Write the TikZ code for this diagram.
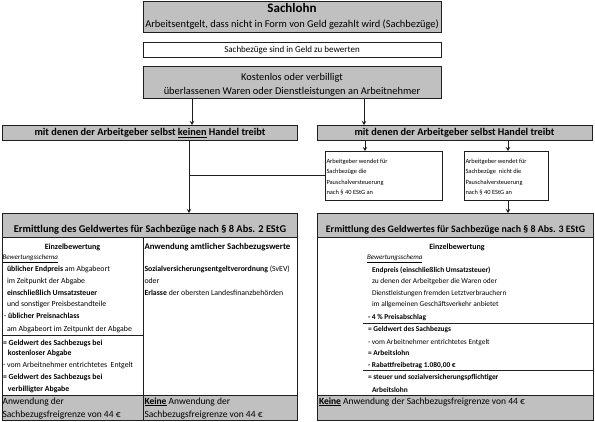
\documentclass[tikz,border=0pt]{standalone}
\usepackage{fontspec}
\setmainfont{Carlito}
\usetikzlibrary{arrows.meta}
\definecolor{boxgray}{HTML}{C0C0C0}
\definecolor{edge}{HTML}{1F1F1F}
\begin{document}
\begin{tikzpicture}[x=1pt,y=-1pt,
  gbox/.style={draw=edge,fill=boxgray,line width=1pt,inner sep=0pt,outer sep=0pt,anchor=north west},
  wbox/.style={draw=edge,fill=white,line width=0.8pt,inner sep=0pt,outer sep=0pt,anchor=north west},
  arr/.style={draw=edge,line width=0.9pt,-{Stealth[length=4pt,width=4.5pt]}},
  conn/.style={draw=edge,line width=0.9pt},
  sep/.style={draw=edge,line width=0.7pt},
  txt/.style={inner sep=0pt,outer sep=0pt,anchor=mid west},
  ctxt/.style={inner sep=0pt,outer sep=0pt,anchor=mid},
  fbig/.style={font=\fontsize{10.4}{12}\selectfont},
  fhead/.style={font=\bfseries\fontsize{10.3}{12}\selectfont},
  ferm/.style={font=\bfseries\fontsize{10.4}{12}\selectfont},
  fermr/.style={font=\bfseries\fontsize{9.9}{12}\selectfont},
  fsub/.style={font=\bfseries\fontsize{8}{9}\selectfont},
  fsubb/.style={font=\bfseries\fontsize{8.8}{10}\selectfont},
  fsm/.style={font=\fontsize{7.8}{9}\selectfont},
  fsr/.style={font=\fontsize{7.4}{9}\selectfont},
  fpa/.style={font=\fontsize{6.4}{7}\selectfont},
  ffoot/.style={font=\fontsize{9.5}{11}\selectfont}]
\useasboundingbox (0,0) rectangle (595,421);

% top boxes
\node[gbox,minimum width=298pt,minimum height=31pt] (sach) at (143,1) {};
\node[ctxt,font=\bfseries\fontsize{13}{15}\selectfont] (sachT) at (292,10.5) {Sachlohn};
\node[ctxt,fbig] (sachS) at (292,25) {Arbeitsentgelt, dass nicht in Form von Geld gezahlt wird (Sachbezüge)};

\node[wbox,minimum width=298pt,minimum height=15pt] (sbw) at (143,42) {};
\node[ctxt,font=\fontsize{9}{10}\selectfont] (sbwT) at (292,50) {Sachbezüge sind in Geld zu bewerten};

\node[gbox,minimum width=298pt,minimum height=32pt] (kost) at (143,66) {};
\node[ctxt,fbig] (kostA) at (292,78) {Kostenlos oder verbilligt};
\node[ctxt,fbig] (kostB) at (292,92) {überlassenen Waren oder Dienstleistungen an Arbeitnehmer};

% second level headers
\node[gbox,minimum width=295pt,minimum height=15pt] (lh) at (2,125) {};
\node[ctxt,fhead] (lhT) at (150,133) {mit denen der Arbeitgeber selbst \underline{keinen} Handel treibt};
\node[gbox,minimum width=275pt,minimum height=15pt] (rh) at (317,125) {};
\node[ctxt,fhead] (rhT) at (454.5,133) {mit denen der Arbeitgeber selbst Handel treibt};

% Pauschalversteuerung boxes
\node[wbox,minimum width=117pt,minimum height=49pt] (pa) at (325,151) {};
\node[txt,fpa] (pa1) at (326.5,161) {Arbeitgeber wendet für};
\node[txt,fpa] (pa2) at (326.5,171.5) {Sachbezüge die};
\node[txt,fpa] (pa3) at (326.5,182) {Pauschalversteuerung};
\node[txt,fpa] (pa4) at (326.5,192.5) {nach § 40 EStG an};
\node[wbox,minimum width=84pt,minimum height=49pt] (pn) at (464,151) {};
\node[txt,fpa] (pn1) at (465.5,161) {Arbeitgeber wendet für};
\node[txt,fpa] (pn2) at (465.5,171.5) {Sachbezüge\ \ nicht die};
\node[txt,fpa] (pn3) at (465.5,182) {Pauschalversteuerung};
\node[txt,fpa] (pn4) at (465.5,192.5) {nach § 40 EStG an};

% left Ermittlung panel
\node[wbox,minimum width=295pt,minimum height=207pt] (le) at (2,213) {};
\node[gbox,minimum width=295pt,minimum height=24pt] (leh) at (2,213) {};
\node[ctxt,ferm] (lehT) at (150,230) {Ermittlung des Geldwertes für Sachbezüge nach § 8 Abs. 2 EStG};
\node[gbox,minimum width=141pt,minimum height=25pt] (lef1) at (2,395) {};
\node[gbox,minimum width=154pt,minimum height=25pt] (lef2) at (143,395) {};
\draw[conn] (leh.south west -| lef2.north west) -- (lef2.north west);
\coordinate (lsepR) at (143,335);
\draw[sep] (lsepR -| le.west) -- (lsepR);

\node[ctxt,fsub] (ezL) at (72.5,247.3) {Einzelbewertung};
\node[txt,font=\itshape\fontsize{7}{8}\selectfont] (bsL) at (2.5,257.3) {\underline{Bewertungsschema}};
\node[txt,fsm] (l1) at (7,269.3) {\textbf{üblicher Endpreis} am Abgabeort};
\node[txt,fsm] (l2) at (7,281) {im Zeitpunkt der Abgabe};
\node[txt,fsm] (l3) at (7,292.7) {\textbf{einschließlich Umsatzsteuer}};
\node[txt,fsm] (l4) at (7,304.3) {und sonstiger Preisbestandteile};
\node[txt,fsm] (l5) at (4,316) {- \textbf{üblicher Preisnachlass}};
\node[txt,fsm] (l6) at (7,329) {am Abgabeort im Zeitpunkt der Abgabe};
\node[txt,fsm] (l7) at (3,343.3) {\textbf{= Geldwert des Sachbezugs bei}};
\node[txt,fsm] (l8) at (8,353.3) {\textbf{kostenloser Abgabe}};
\node[txt,fsm] (l9) at (3,365) {- vom Arbeitnehmer entrichtetes\ \ Entgelt};
\node[txt,fsm] (l10) at (3,376.7) {\textbf{= Geldwert des Sachbezugs bei}};
\node[txt,fsm] (l11) at (8,389.3) {\textbf{verbilligter Abgabe}};

\node[txt,fsubb] (awA) at (144.5,247.3) {Anwendung amtlicher Sachbezugswerte};
\node[txt,fsm] (m1) at (144.5,269.3) {\textbf{Sozialversicherungsentgeltverordnung} (SvEV)};
\node[txt,fsm] (m2) at (144.5,281) {oder};
\node[txt,fsm] (m3) at (144.5,292.7) {\textbf{Erlasse} der obersten Landesfinanzbehörden};

\node[txt,ffoot] (f1) at (2.5,401.7) {Anwendung der};
\node[txt,ffoot] (f2) at (2.5,415) {Sachbezugsfreigrenze von 44 €};
\node[txt,ffoot] (f3) at (144.5,401.7) {\textbf{\underline{Keine}} Anwendung der};
\node[txt,ffoot] (f4) at (144.5,415) {Sachbezugsfreigrenze von 44 €};

% right Ermittlung panel
\node[wbox,minimum width=276pt,minimum height=207pt] (re) at (317,213) {};
\node[gbox,minimum width=276pt,minimum height=24pt] (reh) at (317,213) {};
\node[ctxt,fermr] (rehT) at (455.5,230) {Ermittlung des Geldwertes für Sachbezüge nach § 8 Abs. 3 EStG};
\node[gbox,minimum width=276pt,minimum height=25pt] (ref) at (317,395) {};
\coordinate (rs1) at (363,323.3);
\coordinate (rs2) at (363,370);
\draw[sep] (rs1) -- (rs1 -| re.east);
\draw[sep] (rs2) -- (rs2 -| re.east);

\node[ctxt,fsub] (ezR) at (457,247.3) {Einzelbewertung};
\node[txt,font=\itshape\fontsize{7}{8}\selectfont] (bsR) at (367,257.3) {\underline{Bewertungsschema}};
\node[txt,fsr] (r1) at (372,269.8) {\textbf{Endpreis (einschließlich Umsatzsteuer)}};
\node[txt,fsr] (r2) at (372,281) {zu denen der Arbeitgeber die Waren oder};
\node[txt,fsr] (r3) at (372,292.7) {Dienstleistungen fremden Letztverbrauchern};
\node[txt,fsr] (r4) at (372,304.3) {im allgemeinen Geschäftsverkehr anbietet};
\node[txt,fsr] (r5) at (368,316.7) {\textbf{- 4 \% Preisabschlag}};
\node[txt,fsr] (r6) at (368,328.8) {\textbf{= Geldwert des Sachbezugs}};
\node[txt,fsr] (r7) at (368,341.7) {- vom Arbeitnehmer entrichtetes Entgelt};
\node[txt,fsr] (r8) at (368,353.3) {\textbf{= Arbeitslohn}};
\node[txt,fsr] (r9) at (368,365) {\textbf{- Rabattfreibetrag 1.080,00 €}};
\node[txt,fsr] (r10) at (368,376.7) {\textbf{= steuer und sozialversicherungspflichtiger}};
\node[txt,fsr] (r11) at (372,390) {\textbf{Arbeitslohn}};
\node[txt,ffoot] (f5) at (319,401.7) {\textbf{\underline{Keine}} Anwendung der Sachbezugsfreigrenze von 44 €};

% connectors
\coordinate (kL) at ([xshift=49pt]kost.south west);
\coordinate (kR) at ([xshift=221pt]kost.south west);
\draw[arr] (kL) -- (kL |- lh.north);
\draw[arr] (kR) -- (kR |- rh.north);
\coordinate (lhD) at ([xshift=187pt]lh.south west);
\draw[arr] (lhD) -- (lhD |- leh.north);
\draw[conn] (pa.west) -- (pa.west -| lhD);
\coordinate (rhA) at ([xshift=48pt]rh.south west);
\coordinate (rhB) at ([xshift=191pt]rh.south west);
\draw[arr] (rhA) -- (rhA |- pa.north);
\draw[arr] (rhB) -- (rhB |- pn.north);
\draw[arr] (rhB |- pn.south) -- (rhB |- reh.north);
\end{tikzpicture}
\end{document}
